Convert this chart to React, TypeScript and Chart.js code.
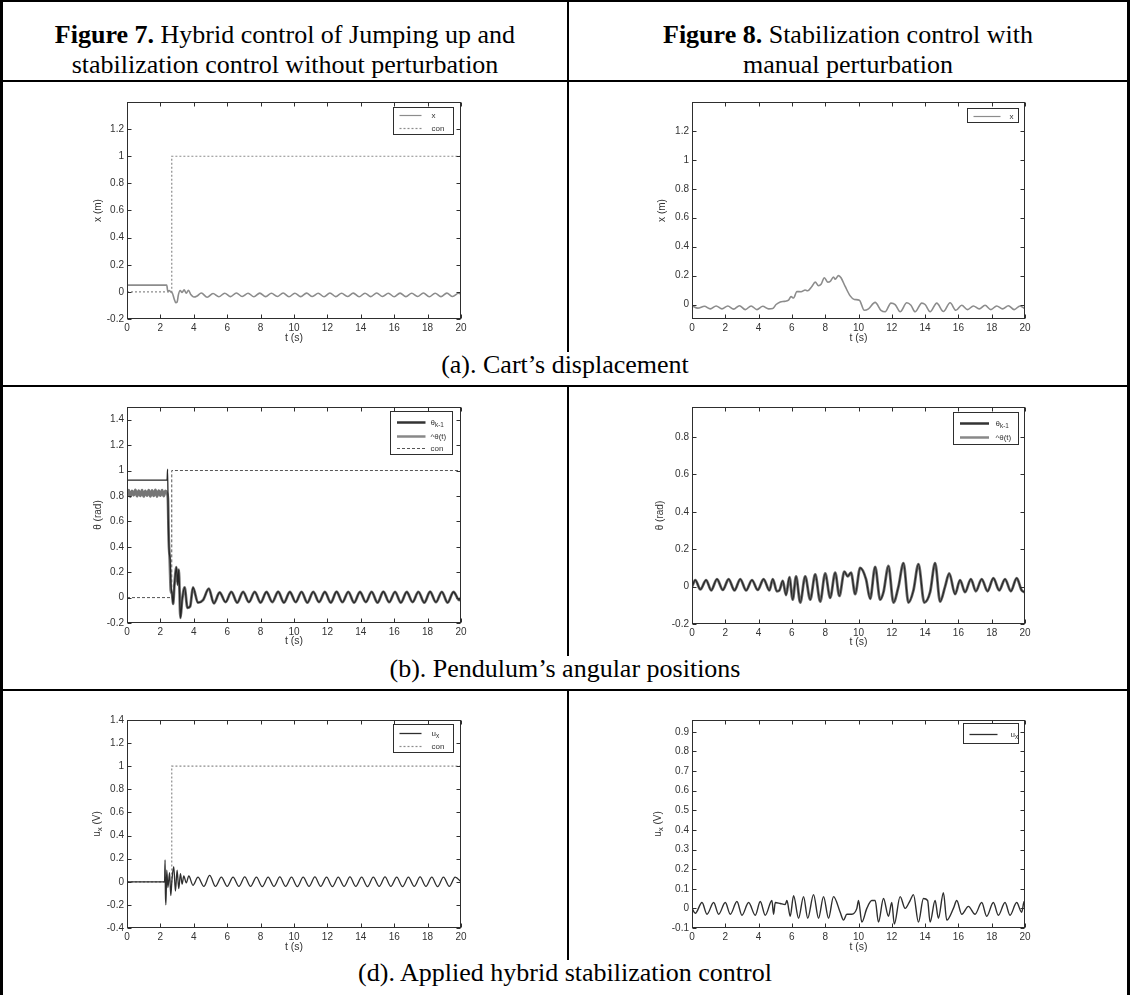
import React, { useEffect, useRef } from "react";
import { Chart, registerables } from "chart.js";

// ---------------- data ----------------
const xTicks = [0, 2, 4, 6, 8, 10, 12, 14, 16, 18, 20];
const yTicksALeft = [-0.2, 0, 0.2, 0.4, 0.6, 0.8, 1, 1.2];
const yTicksARight = [0, 0.2, 0.4, 0.6, 0.8, 1, 1.2];
const yTicksBLeft = [-0.2, 0, 0.2, 0.4, 0.6, 0.8, 1, 1.2, 1.4];
const yTicksBRight = [-0.2, 0, 0.2, 0.4, 0.6, 0.8];
const yTicksCLeft = [-0.4, -0.2, 0, 0.2, 0.4, 0.6, 0.8, 1, 1.2, 1.4];
const yTicksCRight = [-0.1, 0, 0.1, 0.2, 0.3, 0.4, 0.5, 0.6, 0.7, 0.8, 0.9];

// reference step "con"
const conT = [0, 2.68, 2.68, 20];
const conY = [0, 0, 1, 1];

// Fig 7 (a) cart displacement x
const aLeftT = [0, 2.38, 2.44, 2.52, 2.62, 2.72, 2.82, 2.92, 3.0, 3.08, 3.18, 3.3, 3.42, 3.55, 3.68, 3.82, 4.0, 4.2, 4.45, 4.8, 5.15, 5.5, 5.85, 6.2, 6.55, 6.9, 7.25, 7.6, 7.95, 8.3, 8.65, 9.0, 9.35, 9.7, 10.05, 10.4, 10.75, 11.1, 11.45, 11.8, 12.15, 12.5, 12.85, 13.2, 13.55, 13.9, 14.25, 14.6, 14.95, 15.3, 15.65, 16.0, 16.35, 16.7, 17.05, 17.4, 17.75, 18.1, 18.45, 18.8, 19.15, 19.5, 19.85, 20.0];
const aLeftX = [0.05, 0.05, 0.005, 0.01, 0.0, -0.01, -0.05, -0.08, -0.075, -0.02, 0.01, -0.005, 0.015, -0.01, 0.012, -0.02, -0.038, -0.03, -0.008, -0.04, -0.012, -0.036, -0.01, -0.035, -0.008, -0.034, -0.01, -0.036, -0.009, -0.035, -0.01, -0.034, -0.008, -0.036, -0.01, -0.035, -0.009, -0.034, -0.01, -0.036, -0.008, -0.035, -0.01, -0.034, -0.009, -0.036, -0.01, -0.035, -0.008, -0.034, -0.01, -0.036, -0.009, -0.035, -0.01, -0.034, -0.008, -0.036, -0.01, -0.035, -0.009, -0.034, -0.01, -0.015];

// Fig 8 (a) cart displacement x
const aRightT = [0, 0.35, 0.75, 1.1, 1.45, 1.8, 2.15, 2.5, 2.85, 3.2, 3.55, 3.9, 4.25, 4.6, 4.85, 5.05, 5.3, 5.55, 5.8, 5.95, 6.1, 6.3, 6.55, 6.8, 6.95, 7.2, 7.4, 7.6, 7.75, 7.95, 8.15, 8.3, 8.5, 8.6, 8.8, 8.95, 9.2, 9.5, 9.75, 10.05, 10.35, 10.6, 11.0, 11.35, 11.6, 11.95, 12.2, 12.5, 12.9, 13.15, 13.4, 13.8, 14.0, 14.3, 14.7, 15.1, 15.5, 15.85, 16.2, 16.55, 16.9, 17.25, 17.6, 17.95, 18.3, 18.65, 19.0, 19.35, 19.7, 20.0];
const aRightX = [-0.008, -0.025, -0.012, -0.03, -0.01, -0.03, -0.01, -0.032, -0.008, -0.035, -0.01, -0.035, -0.012, -0.03, -0.028, 0.0, 0.018, 0.022, 0.03, 0.055, 0.045, 0.09, 0.088, 0.1, 0.095, 0.125, 0.155, 0.13, 0.14, 0.185, 0.155, 0.16, 0.19, 0.175, 0.2, 0.185, 0.125, 0.06, 0.035, 0.03, -0.04, -0.03, 0.015, -0.04, -0.05, 0.01, 0.0, -0.05, 0.012, -0.005, -0.05, 0.01, 0.0, -0.05, 0.01, -0.048, 0.012, -0.04, -0.005, -0.035, -0.01, -0.03, -0.005, -0.035, -0.01, -0.03, -0.008, -0.035, -0.01, -0.03];

// Fig 7 (b) pendulum angle
const bLeftHatHeadT = [0, 0.1, 0.2, 0.3, 0.4, 0.5, 0.6, 0.7, 0.8, 0.9, 1.0, 1.1, 1.2, 1.3, 1.4, 1.5, 1.6, 1.7, 1.8, 1.9, 2.0, 2.1, 2.2, 2.3, 2.4, 2.45, 2.5, 2.56, 2.62];
const bLeftHatHeadY = [0.8, 0.845, 0.795, 0.84, 0.805, 0.848, 0.798, 0.842, 0.8, 0.846, 0.796, 0.84, 0.802, 0.845, 0.797, 0.843, 0.8, 0.847, 0.795, 0.842, 0.803, 0.845, 0.798, 0.84, 0.82, 0.78, 0.45, 0.3, 0.06];
const bLeftKHeadT = [0, 2.4, 2.43, 2.47, 2.52, 2.58, 2.64];
const bLeftKHeadY = [0.925, 0.925, 1.01, 0.62, 0.38, 0.3, 0.08];
const bLeftTailT = [2.7, 2.76, 2.84, 2.96, 3.04, 3.1, 3.2, 3.3, 3.45, 3.62, 3.78, 3.95, 4.25, 4.55, 4.9, 5.2, 5.55, 5.9, 6.25, 6.6, 6.95, 7.3, 7.65, 8.0, 8.35, 8.7, 9.05, 9.4, 9.75, 10.1, 10.45, 10.8, 11.15, 11.5, 11.85, 12.2, 12.55, 12.9, 13.25, 13.6, 13.95, 14.3, 14.65, 15.0, 15.35, 15.7, 16.05, 16.4, 16.75, 17.1, 17.45, 17.8, 18.15, 18.5, 18.85, 19.2, 19.55, 19.9, 20.0];
const bLeftTailY = [0.03, -0.05, 0.1, 0.24, 0.1, 0.22, -0.16, -0.02, 0.08, -0.08, -0.07, 0.08, -0.04, -0.02, 0.07, -0.045, 0.04, -0.035, 0.045, -0.04, 0.045, -0.035, 0.045, -0.04, 0.044, -0.035, 0.046, -0.04, 0.044, -0.036, 0.045, -0.04, 0.045, -0.035, 0.044, -0.04, 0.046, -0.036, 0.045, -0.04, 0.044, -0.035, 0.045, -0.04, 0.046, -0.036, 0.045, -0.04, 0.044, -0.035, 0.045, -0.04, 0.046, -0.036, 0.045, -0.04, 0.044, -0.02, 0.0];

// Fig 8 (b) pendulum angle (both curves overlap)
const bRightT = [0, 0.2, 0.5, 0.85, 1.15, 1.5, 1.85, 2.2, 2.55, 2.9, 3.25, 3.6, 3.95, 4.3, 4.65, 4.85, 5.1, 5.25, 5.45, 5.65, 5.85, 6.05, 6.25, 6.5, 6.8, 7.1, 7.4, 7.7, 8.0, 8.3, 8.6, 8.85, 9.15, 9.35, 9.55, 9.8, 10.1, 10.45, 10.7, 11.0, 11.3, 11.5, 11.8, 12.1, 12.4, 12.7, 13.0, 13.3, 13.6, 13.95, 14.3, 14.6, 14.9, 15.2, 15.45, 15.8, 16.1, 16.4, 16.75, 17.05, 17.4, 17.75, 18.1, 18.45, 18.8, 19.15, 19.5, 19.8, 20.0];
const bRightY = [0.0, 0.035, -0.015, 0.035, -0.02, 0.04, -0.018, 0.04, -0.02, 0.04, -0.02, 0.035, -0.018, 0.04, -0.02, 0.04, -0.025, -0.02, 0.03, -0.045, 0.05, -0.07, 0.055, -0.085, 0.055, -0.07, 0.065, -0.08, 0.07, -0.06, 0.075, -0.05, 0.08, 0.055, 0.075, -0.04, 0.1, 0.04, -0.065, 0.105, -0.07, -0.03, 0.11, -0.085, 0.0, 0.125, -0.085, -0.02, 0.12, -0.085, -0.03, 0.125, -0.08, 0.0, 0.07, -0.04, 0.035, -0.03, 0.04, -0.025, 0.04, -0.025, 0.045, -0.02, 0.04, -0.025, 0.045, -0.02, -0.03];

// Fig 7 (d) control u_x
const cLeftT = [0, 2.25, 2.28, 2.3, 2.33, 2.38, 2.45, 2.55, 2.62, 2.7, 2.8, 2.9, 3.0, 3.1, 3.2, 3.3, 3.4, 3.55, 3.7, 3.95, 4.25, 4.6, 4.95, 5.3, 5.65, 6.0, 6.35, 6.7, 7.05, 7.4, 7.75, 8.1, 8.45, 8.8, 9.15, 9.5, 9.85, 10.2, 10.55, 10.9, 11.25, 11.6, 11.95, 12.3, 12.65, 13.0, 13.35, 13.7, 14.05, 14.4, 14.75, 15.1, 15.45, 15.8, 16.15, 16.5, 16.85, 17.2, 17.55, 17.9, 18.25, 18.6, 18.95, 19.3, 19.65, 20.0];
const cLeftU = [0, 0, 0.19, -0.1, -0.2, 0.1, -0.05, 0.08, -0.12, 0.03, 0.13, -0.08, 0.1, -0.06, 0.07, -0.02, 0.05, -0.01, 0.05, -0.03, 0.04, -0.04, 0.055, -0.04, 0.04, -0.04, 0.04, -0.04, 0.042, -0.04, 0.04, -0.042, 0.04, -0.04, 0.042, -0.04, 0.04, -0.042, 0.04, -0.04, 0.042, -0.04, 0.04, -0.042, 0.04, -0.04, 0.042, -0.04, 0.04, -0.042, 0.04, -0.04, 0.042, -0.04, 0.04, -0.042, 0.04, -0.04, 0.042, -0.04, 0.04, -0.042, 0.04, -0.04, 0.04, 0.0];

// Fig 8 (d) control u_x
const cRightT = [0, 0.2, 0.6, 0.9, 1.3, 1.6, 2.0, 2.3, 2.7, 3.0, 3.4, 3.8, 4.1, 4.4, 4.8, 4.9, 5.0, 5.3, 5.6, 5.7, 5.9, 6.1, 6.4, 6.7, 6.95, 7.3, 7.6, 7.9, 8.2, 8.5, 8.9, 9.1, 9.3, 9.6, 9.9, 10.0, 10.2, 10.5, 10.8, 11.0, 11.2, 11.5, 11.8, 12.0, 12.15, 12.5, 12.8, 13.1, 13.3, 13.6, 13.9, 14.15, 14.3, 14.6, 14.8, 15.1, 15.3, 15.7, 15.9, 16.2, 16.6, 17.0, 17.4, 17.7, 18.1, 18.4, 18.8, 19.1, 19.5, 19.8, 19.95, 20.0];
const cRightU = [0.0, -0.025, 0.03, -0.03, 0.03, -0.03, 0.03, -0.03, 0.035, -0.035, 0.03, -0.035, 0.035, -0.035, 0.04, -0.03, 0.03, 0.025, 0.02, 0.04, -0.04, 0.065, -0.05, 0.06, -0.05, 0.07, -0.05, 0.06, -0.05, 0.06, -0.02, -0.06, -0.03, -0.03, 0.0, 0.04, -0.07, 0.0, 0.04, 0.04, -0.07, 0.05, -0.04, 0.03, -0.08, 0.06, 0.0, 0.04, 0.07, -0.07, 0.05, 0.04, -0.07, 0.04, -0.05, 0.08, -0.06, 0.0, 0.04, -0.03, 0.01, -0.03, 0.03, -0.04, 0.03, -0.035, 0.03, -0.035, 0.03, -0.02, 0.035, 0.0];

// ---------------- helpers ----------------
const pts = (t: number[], y: number[]) => t.map((v, i) => ({ x: v, y: y[i] }));
const SANS = '"Liberation Sans", Arial, Helvetica, sans-serif';
const fmt = (v: any) => String(Math.round(Number(v) * 100) / 100);

function parseRich(s: string) {
  const parts: { t: string; sub: boolean }[] = [];
  const re = /_\{([^}]*)\}/g;
  let last = 0;
  let m: RegExpExecArray | null;
  while ((m = re.exec(s))) {
    if (m.index > last) parts.push({ t: s.slice(last, m.index), sub: false });
    parts.push({ t: m[1], sub: true });
    last = re.lastIndex;
  }
  if (last < s.length) parts.push({ t: s.slice(last), sub: false });
  return parts;
}

function drawRich(ctx: CanvasRenderingContext2D, s: string, x: number, y: number, size: number, align: string, color: string) {
  const parts = parseRich(s);
  const sub = size * 0.8;
  let w = 0;
  for (const p of parts) {
    ctx.font = `${p.sub ? sub : size}px ${SANS}`;
    w += ctx.measureText(p.t).width;
  }
  let cx = align === "center" ? x - w / 2 : x;
  ctx.textAlign = "left";
  ctx.textBaseline = "middle";
  ctx.fillStyle = color;
  for (const p of parts) {
    ctx.font = `${p.sub ? sub : size}px ${SANS}`;
    ctx.fillText(p.t, cx, p.sub ? y + size * 0.32 : y);
    cx += ctx.measureText(p.t).width;
  }
}

const matlabPlugin = {
  id: "matlab",
  afterDraw(chart: any, _args: any, opts: any) {
    if (!opts || !opts.enabled) return;
    const ctx: CanvasRenderingContext2D = chart.ctx;
    const a = chart.chartArea;
    const xs = chart.scales.x;
    const ys = chart.scales.y;
    const L = Math.round(a.left) + 0.5;
    const T = Math.round(a.top) + 0.5;
    const R = Math.round(a.right) - 0.5;
    const B = Math.round(a.bottom) - 0.5;
    ctx.save();
    ctx.strokeStyle = "#2e2e2e";
    ctx.lineWidth = 1;
    ctx.setLineDash([]);
    ctx.strokeRect(L, T, R - L, B - T);
    const tl = 4;
    ctx.beginPath();
    for (const t of xs.ticks) {
      const px = Math.round(xs.getPixelForValue(t.value)) + 0.5;
      ctx.moveTo(px, B); ctx.lineTo(px, B - tl);
      ctx.moveTo(px, T); ctx.lineTo(px, T + tl);
    }
    for (const t of ys.ticks) {
      const py = Math.round(ys.getPixelForValue(t.value)) + 0.5;
      ctx.moveTo(L, py); ctx.lineTo(L + tl, py);
      ctx.moveTo(R, py); ctx.lineTo(R - tl, py);
    }
    ctx.stroke();

    // axis titles
    ctx.save();
    ctx.translate(a.left - opts.yTitleOffset, (a.top + a.bottom) / 2);
    ctx.rotate(-Math.PI / 2);
    drawRich(ctx, opts.yTitle, 0, 0, 10, "center", "#333");
    ctx.restore();
    drawRich(ctx, opts.xTitle, (a.left + a.right) / 2, a.bottom + opts.xTitleOffset, 10.5, "center", "#333");

    // legend box
    const lg = opts.legend;
    const bx = Math.round(a.right - lg.right - lg.w) + 0.5;
    const by = Math.round(a.top + lg.top) + 0.5;
    ctx.fillStyle = "#ffffff";
    ctx.fillRect(bx, by, lg.w, lg.h);
    ctx.strokeStyle = "#2e2e2e";
    ctx.lineWidth = 1;
    ctx.strokeRect(bx, by, lg.w, lg.h);
    chart.data.datasets.forEach((ds: any, i: number) => {
      const ry = Math.round(by + lg.rows[i]) + 0.5;
      ctx.beginPath();
      ctx.strokeStyle = ds.legendColor || ds.borderColor;
      ctx.lineWidth = ds.legendWidth || ds.borderWidth;
      ctx.setLineDash(ds.borderDash || []);
      ctx.moveTo(bx + lg.lineStart, ry);
      ctx.lineTo(bx + lg.lineEnd, ry);
      ctx.stroke();
      ctx.setLineDash([]);
      drawRich(ctx, ds.label, bx + lg.textStart, ry, 8, "left", "#333");
    });
    ctx.restore();
  },
};

Chart.register(...registerables, matlabPlugin);

const PAD_T = 10;
const PAD_R = 12;
const AX_W = 60;
const AX_H = 32;

function wave(label: string, data: any[], color: string, width: number, extra: any = {}) {
  return {
    label,
    data,
    borderColor: color,
    borderWidth: width,
    pointRadius: 0,
    fill: false,
    cubicInterpolationMode: "monotone",
    ...extra,
  };
}
function step(label: string, color: string, width: number, dash: number[]) {
  return {
    label,
    data: pts(conT, conY),
    borderColor: color,
    borderWidth: width,
    borderDash: dash,
    pointRadius: 0,
    fill: false,
    tension: 0,
  };
}

type Spec = {
  L: number; T: number; R: number; B: number;
  yMin: number; yMax: number; yTicks: number[];
  yTitle: string; yTitleOffset: number; xTitleOffset: number;
  legend: any; datasets: () => any[];
};

const specs: Spec[] = [
  {
    L: 127, T: 102, R: 461, B: 319, yMin: -0.2, yMax: 1.4, yTicks: yTicksALeft,
    yTitle: "x (m)", yTitleOffset: 29, xTitleOffset: 19,
    legend: { w: 60, h: 27, top: 4.5, right: 8, rows: [7.5, 20], lineStart: 6, lineEnd: 28, textStart: 38 },
    datasets: () => [
      wave("x", pts(aLeftT, aLeftX), "#8c8c8c", 1.6, { legendWidth: 1.2 }),
      step("con", "#8c8c8c", 1.2, [2, 2]),
    ],
  },
  {
    L: 692, T: 102, R: 1025, B: 319, yMin: -0.1, yMax: 1.4, yTicks: yTicksARight,
    yTitle: "x (m)", yTitleOffset: 30, xTitleOffset: 19,
    legend: { w: 51, h: 14, top: 5.5, right: 7, rows: [7], lineStart: 6, lineEnd: 33, textStart: 42 },
    datasets: () => [wave("x", pts(aRightT, aRightX), "#8c8c8c", 1.6, { legendWidth: 1.2 })],
  },
  {
    L: 127, T: 407, R: 461, B: 623, yMin: -0.2, yMax: 1.5, yTicks: yTicksBLeft,
    yTitle: "θ (rad)", yTitleOffset: 29, xTitleOffset: 18,
    legend: { w: 62, h: 43, top: 3.7, right: 9, rows: [10, 24, 36.5], lineStart: 6.5, lineEnd: 35, textStart: 40 },
    datasets: () => [
      wave("θ_{k-1}", pts(bLeftKHeadT.concat(bLeftTailT), bLeftKHeadY.concat(bLeftTailY)), "#262626", 1.3, { legendWidth: 2.5, legendColor: "#333" }),
      wave("^θ(t)", pts(bLeftHatHeadT.concat(bLeftTailT), bLeftHatHeadY.concat(bLeftTailY)), "#767676", 2.8, { legendWidth: 2.5, legendColor: "#888" }),
      step("con", "#555555", 1, [3, 2]),
    ],
  },
  {
    L: 692, T: 407, R: 1025, B: 624, yMin: -0.2, yMax: 0.96, yTicks: yTicksBRight,
    yTitle: "θ (rad)", yTitleOffset: 32, xTitleOffset: 18,
    legend: { w: 65, h: 32, top: 4.5, right: 7, rows: [10, 24.5], lineStart: 6.5, lineEnd: 35.5, textStart: 42 },
    datasets: () => [
      wave("θ_{k-1}", pts(bRightT, bRightY), "#262626", 1.2, { legendWidth: 2.5, legendColor: "#333" }),
      wave("^θ(t)", pts(bRightT, bRightY), "#6f6f6f", 2.8, { legendWidth: 2.5, legendColor: "#888" }),
    ],
  },
  {
    L: 127, T: 720, R: 461, B: 928, yMin: -0.4, yMax: 1.4, yTicks: yTicksCLeft,
    yTitle: "u_{x} (V)", yTitleOffset: 30, xTitleOffset: 19,
    legend: { w: 60, h: 28, top: 4, right: 8, rows: [8.5, 21], lineStart: 6, lineEnd: 28, textStart: 38 },
    datasets: () => [
      wave("u_{x}", pts(cLeftT, cLeftU), "#2e2e2e", 1.3, { legendWidth: 1.3 }),
      step("con", "#8c8c8c", 1.2, [2, 2]),
    ],
  },
  {
    L: 692, T: 720, R: 1025, B: 928, yMin: -0.1, yMax: 0.96, yTicks: yTicksCRight,
    yTitle: "u_{x} (V)", yTitleOffset: 34, xTitleOffset: 19,
    legend: { w: 55, h: 20, top: 3, right: 7, rows: [10.5], lineStart: 6, lineEnd: 34, textStart: 47 },
    datasets: () => [wave("u_{x}", pts(cRightT, cRightU), "#2e2e2e", 1.4, { legendWidth: 1.3 })],
  },
];

function Plot({ s }: { s: Spec }) {
  const ref = useRef<HTMLCanvasElement>(null);
  const w = s.R - s.L + AX_W + PAD_R;
  const h = s.B - s.T + PAD_T + AX_H;
  useEffect(() => {
    if (!ref.current) return;
    const tickFont = { family: SANS, size: 10 };
    const chart = new Chart(ref.current, {
      type: "line",
      data: { datasets: s.datasets() },
      options: {
        responsive: false,
        animation: false,
        devicePixelRatio: 1,
        events: [],
        layout: { padding: { left: 0, top: PAD_T, right: PAD_R, bottom: 0 } },
        scales: {
          x: {
            type: "linear",
            min: 0,
            max: 20,
            afterBuildTicks: (ax: any) => { ax.ticks = xTicks.map((v) => ({ value: v })); },
            afterFit: (sc: any) => { sc.height = AX_H; },
            grid: { display: false, drawTicks: false },
            border: { display: false },
            ticks: { padding: 3, font: tickFont, color: "#333", maxRotation: 0, autoSkip: false, callback: fmt },
          },
          y: {
            type: "linear",
            min: s.yMin,
            max: s.yMax,
            afterBuildTicks: (ax: any) => { ax.ticks = s.yTicks.map((v) => ({ value: v })); },
            afterFit: (sc: any) => { sc.width = AX_W; },
            grid: { display: false, drawTicks: false },
            border: { display: false },
            ticks: { padding: 3, font: tickFont, color: "#333", autoSkip: false, callback: fmt },
          },
        },
        plugins: {
          legend: { display: false },
          tooltip: { enabled: false },
          matlab: {
            enabled: true,
            yTitle: s.yTitle,
            yTitleOffset: s.yTitleOffset,
            xTitle: "t (s)",
            xTitleOffset: s.xTitleOffset,
            legend: s.legend,
          },
        },
      } as any,
    } as any);
    return () => chart.destroy();
  }, []);
  return (
    <canvas
      ref={ref}
      width={w}
      height={h}
      style={{ position: "absolute", left: s.L - AX_W, top: s.T - PAD_T, width: w, height: h }}
    />
  );
}

const line = (left: number, top: number, width: number, height: number) => (
  <div style={{ position: "absolute", left, top, width, height, background: "#000" }} />
);

export default function App() {
  const serif = '"Liberation Serif", "Times New Roman", Times, serif';
  const cap = (top: number, text: string) => (
    <div style={{ position: "absolute", left: 0, top, width: 1130, textAlign: "center", fontSize: 26, lineHeight: "30px", fontFamily: serif, color: "#000" }}>
      {text}
    </div>
  );
  return (
    <div style={{ position: "absolute", left: 0, top: 0, width: 1130, height: 995, background: "#fff", overflow: "hidden", fontFamily: serif }}>
      {line(0, 0, 1130, 2)}
      {line(0, 0, 3, 995)}
      {line(1127, 0, 3, 995)}
      {line(0, 80, 1130, 2)}
      {line(0, 385, 1130, 2)}
      {line(0, 689, 1130, 2)}
      {line(567, 0, 2, 352)}
      {line(567, 386, 2, 270)}
      {line(567, 690, 2, 270)}
      <div style={{ position: "absolute", left: 3, top: 20, width: 564, textAlign: "center", fontSize: 26, lineHeight: "30px" }}>
        <b>Figure 7.</b> Hybrid control of Jumping up and
        <br />
        stabilization control without perturbation
      </div>
      <div style={{ position: "absolute", left: 569, top: 20, width: 558, textAlign: "center", fontSize: 26, lineHeight: "30px" }}>
        <b>Figure 8.</b> Stabilization control with
        <br />
        manual perturbation
      </div>
      {cap(350, "(a). Cart’s displacement")}
      {cap(654, "(b). Pendulum’s angular positions")}
      {cap(958, "(d). Applied hybrid stabilization control")}
      {specs.map((s, i) => (
        <Plot key={i} s={s} />
      ))}
    </div>
  );
}
